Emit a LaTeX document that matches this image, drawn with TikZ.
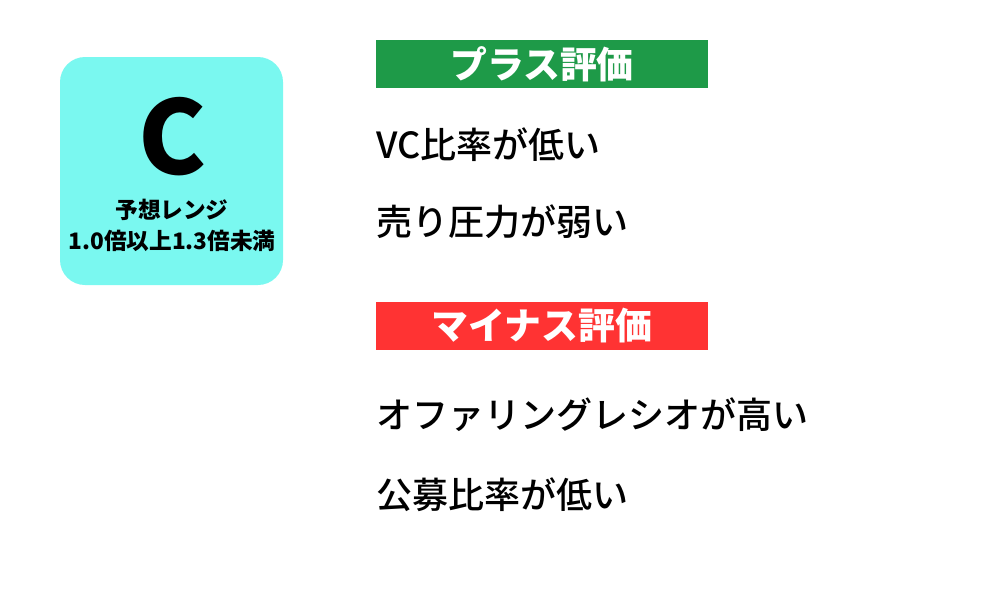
\documentclass[tikz,border=0pt]{standalone}
\usepackage{fontspec}
\setmainfont{Noto Sans CJK JP}
\newfontfamily\mediumfont{Noto Sans CJK JP Medium}
\usetikzlibrary{positioning}
\definecolor{gradecyan}{HTML}{7AF8F0}
\definecolor{plusgreen}{HTML}{1E9A48}
\definecolor{minusred}{HTML}{FF3333}
\tikzset{
  headbar/.style={minimum width=6.64cm, minimum height=0.96cm, inner sep=0pt, text=white, font=\fontsize{21}{22}\selectfont\bfseries},
  item/.style={anchor=west, inner sep=0pt, font=\mediumfont\fontsize{20.5}{22}\selectfont},
  subtext/.style={font=\fontsize{12.9}{14}\selectfont\bfseries, inner sep=0pt}
}
\begin{document}
\begin{tikzpicture}[x=0.02cm, y=-0.02cm]
  \useasboundingbox (0,0) rectangle (1000,600);
  % grade box
  \fill[gradecyan, rounded corners=0.5cm] (60,57) rectangle (283,285);
  \node (grade) at (172,137) {\fontsize{58}{60}\selectfont\bfseries C};
  \node[subtext] (range1) at (172,210) {予想レンジ};
  \node[subtext] (range2) at (172,241) {1.0倍以上1.3倍未満};
  % plus
  \node[headbar, fill=plusgreen] (plus) at (542,64) {プラス評価};
  \node[item] (p1) at (376,145) {VC比率が低い};
  \node[item] (p2) at (376,222) {売り圧力が弱い};
  % minus
  \node[headbar, fill=minusred] (minus) at (542,326) {マイナス評価};
  \node[item] (m1) at (376,415) {オファリングレシオが高い};
  \node[item] (m2) at (376,495) {公募比率が低い};
\end{tikzpicture}
\end{document}
